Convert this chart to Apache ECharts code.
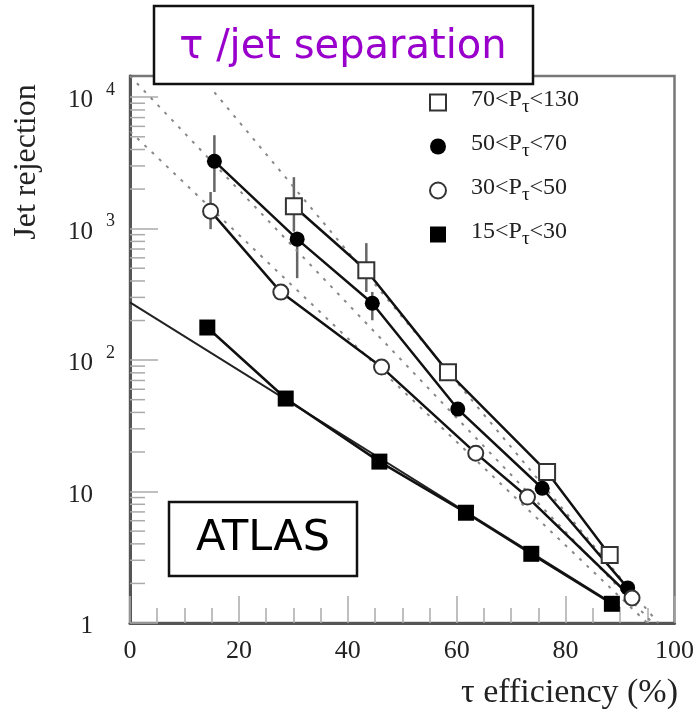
<!DOCTYPE html>
<html>
<head>
<meta charset="utf-8">
<script src="https://cdn.jsdelivr.net/npm/echarts@6/dist/echarts.min.js"></script>
<style>
  html, body { margin: 0; padding: 0; background: #fff; }
  #chart { width: 697px; height: 712px; }
</style>
</head>
<body>
<div id="chart"></div>
<script>
// values: tau efficiency (%) vs jet rejection
let ptLow = [70, 50, 30, 15];
let ptHigh = [130, 70, 50, 30];

let effPt70 = [30.1, 43.4, 58.4, 76.6, 88.1];
let rejPt70 = [1480, 483, 81, 14.1, 3.29];

let effPt50 = [15.5, 30.7, 44.5, 60.2, 75.7, 91.4];
let rejPt50 = [3260, 832, 271, 42.4, 10.6, 1.85];

let effPt30 = [14.8, 27.7, 46.2, 63.5, 73.0, 92.2];
let rejPt30 = [1358, 329, 88.5, 19.6, 9.08, 1.55];

let effPt15 = [14.2, 28.6, 45.8, 61.7, 73.7, 88.5];
let rejPt15 = [177, 51, 16.9, 6.9, 3.36, 1.40];

// error bars
let errEff = [15.5, 14.8, 30.1, 30.7, 43.4, 44.5];
let errLow = [1900, 991, 950, 420, 330, 201];
let errHigh = [5140, 1900, 2465, 950, 776, 330];

// straight fit lines (two end points each)
let fitSolidEff = [0, 90];
let fitSolidRej = [275, 1.3];
let fitDashEff = [[0, 96], [15.5, 97], [0, 95]];
let fitDashRej = [[14500, 1], [10900, 1], [5500, 1]];

let yMinorTicks = [2, 3, 4, 5, 6, 7, 8, 9,
  20, 30, 40, 50, 60, 70, 80, 90,
  200, 300, 400, 500, 600, 700, 800, 900,
  2000, 3000, 4000, 5000, 6000, 7000, 8000, 9000];

let legendNames = ptLow.map(function (lo, i) { return lo + '<Pτ<' + ptHigh[i]; });

function pairs(xs, ys) {
  return xs.map(function (x, i) { return [x, ys[i]]; });
}

let serif = '"Liberation Serif", "DejaVu Serif", serif';

let chart = echarts.init(document.getElementById('chart'));

let dataSeries = [
  { x: effPt70, y: rejPt70, symbol: 'rect', open: true },
  { x: effPt50, y: rejPt50, symbol: 'circle', open: false },
  { x: effPt30, y: rejPt30, symbol: 'circle', open: true },
  { x: effPt15, y: rejPt15, symbol: 'rect', open: false }
];

let series = [];

// grey dotted fits
fitDashEff.forEach(function (xs, i) {
  series.push({
    type: 'line',
    data: pairs(xs, fitDashRej[i]),
    symbol: 'none',
    silent: true,
    z: 1,
    lineStyle: { color: '#888', width: 2, type: [3, 7] }
  });
});

// solid fit for lowest pt bin
series.push({
  type: 'line',
  data: pairs(fitSolidEff, fitSolidRej),
  symbol: 'none',
  z: 1,
  lineStyle: { color: '#222', width: 2 }
});

// error bars
series.push({
  type: 'custom',
  z: 1,
  data: errEff.map(function (x, i) { return [x, errLow[i], errHigh[i]]; }),
  encode: { x: 0, y: [1, 2] },
  renderItem: function (params, api) {
    let a = api.coord([api.value(0), api.value(1)]);
    let b = api.coord([api.value(0), api.value(2)]);
    return {
      type: 'line',
      shape: { x1: a[0], y1: a[1], x2: b[0], y2: b[1] },
      style: { stroke: '#666', lineWidth: 2.5 }
    };
  }
});

// minor ticks on log axis (2..9 per decade)
series.push({
  type: 'custom',
  silent: true,
  data: yMinorTicks.map(function (v) { return [0, v]; }),
  renderItem: function (params, api) {
    let p = api.coord([0, api.value(1)]);
    return {
      type: 'line',
      shape: { x1: p[0], y1: p[1], x2: p[0] + 15, y2: p[1] },
      style: { stroke: '#aaa', lineWidth: 1.5 }
    };
  }
});

dataSeries.forEach(function (s, i) {
  series.push({
    name: legendNames[i],
    type: 'line',
    data: pairs(s.x, s.y),
    symbol: s.symbol,
    symbolSize: s.symbol === 'rect' ? 16 : 15,
    showAllSymbol: true,
    z: 3,
    lineStyle: { color: '#111', width: 2.5 },
    itemStyle: s.open
      ? { color: '#fff', borderColor: '#333', borderWidth: 2 }
      : { color: '#000', borderColor: '#000', borderWidth: 0 }
  });
});

let option = {
  animation: false,
  grid: {
    left: 130, right: 19, top: 76, bottom: 89,
    show: true, borderColor: '#777', borderWidth: 2.5, backgroundColor: '#fff'
  },
  legend: {
    orient: 'vertical',
    left: 424,
    top: 83,
    itemWidth: 16,
    itemHeight: 16,
    itemGap: 15,
    data: dataSeries.map(function (s, i) {
      return {
        name: legendNames[i],
        icon: s.symbol,
        itemStyle: s.open
          ? { color: '#fff', borderColor: '#333', borderWidth: 2 }
          : { color: '#000', borderWidth: 0 }
      };
    }),
    formatter: function (name) {
      let i = legendNames.indexOf(name);
      return '{n|' + ptLow[i] + '<P}{s|τ}{n|<' + ptHigh[i] + '}';
    },
    textStyle: {
      padding: [0, 0, 0, 20],
      rich: {
        n: { fontFamily: serif, fontSize: 24, color: '#222', verticalAlign: 'top' },
        s: { fontFamily: serif, fontSize: 19, color: '#111', verticalAlign: 'top', padding: [10, 0, 0, 0] }
      }
    }
  },
  xAxis: {
    type: 'value',
    min: 0,
    max: 100,
    interval: 20,
    axisLine: { lineStyle: { color: '#555', width: 3 } },
    axisTick: { inside: true, length: 27, lineStyle: { color: '#aaa', width: 1.5 } },
    minorTick: { show: true, splitNumber: 4, length: 15, lineStyle: { color: '#aaa', width: 1.5 } },
    splitLine: { show: false },
    axisLabel: { margin: 15, fontFamily: serif, fontSize: 26, color: '#222' }
  },
  yAxis: {
    type: 'log',
    logBase: 10,
    min: 1,
    max: 14500,
    axisLine: { lineStyle: { color: '#555', width: 3 } },
    axisTick: { inside: true, length: 28, lineStyle: { color: '#aaa', width: 1.5 } },
    splitLine: { show: false },
    axisLabel: {
      margin: 15,
      showMaxLabel: false,
      formatter: function (v) {
        let e = Math.round(Math.log10(v));
        if (Math.abs(Math.log10(v) - e) > 1e-6) return '';
        if (e === 0) return '{b|1}{s| }';
        if (e === 1) return '{b|10}{s| }';
        return '{b|10}{s|' + e + '}';
      },
      rich: {
        b: { fontFamily: serif, fontSize: 25, color: '#222', verticalAlign: 'bottom' },
        s: { fontFamily: serif, fontSize: 18, color: '#222', width: 22, align: 'right',
             verticalAlign: 'bottom', padding: [0, 0, 14, 0] }
      }
    }
  },
  graphic: [
    {
      type: 'rect',
      z: 100,
      shape: { x: 154, y: 6, width: 379, height: 78 },
      style: { fill: '#fff', stroke: '#111', lineWidth: 2.5 }
    },
    {
      type: 'text',
      z: 101,
      x: 343, y: 48,
      style: {
        text: 'τ /jet separation',
        fill: '#9900cc',
        font: '40px "DejaVu Sans", sans-serif',
        textAlign: 'center',
        textVerticalAlign: 'middle'
      }
    },
    {
      type: 'rect',
      z: 100,
      shape: { x: 169, y: 502, width: 188, height: 74 },
      style: { fill: '#fff', stroke: '#111', lineWidth: 2.5 }
    },
    {
      type: 'text',
      z: 101,
      x: 263, y: 539,
      style: {
        text: 'ATLAS',
        fill: '#000',
        font: '43px "DejaVu Sans", sans-serif',
        textAlign: 'center',
        textVerticalAlign: 'middle'
      }
    },
    {
      type: 'text',
      x: 27, y: 162,
      rotation: Math.PI / 2,
      style: {
        text: 'Jet rejection',
        fill: '#222',
        font: '32px ' + serif,
        textAlign: 'center',
        textVerticalAlign: 'middle'
      }
    },
    {
      type: 'text',
      x: 678, y: 693,
      style: {
        text: 'τ efficiency (%)',
        fill: '#222',
        font: '34px ' + serif,
        textAlign: 'right',
        textVerticalAlign: 'middle'
      }
    }
  ],
  series: series
};

chart.setOption(option);
</script>
</body>
</html>
